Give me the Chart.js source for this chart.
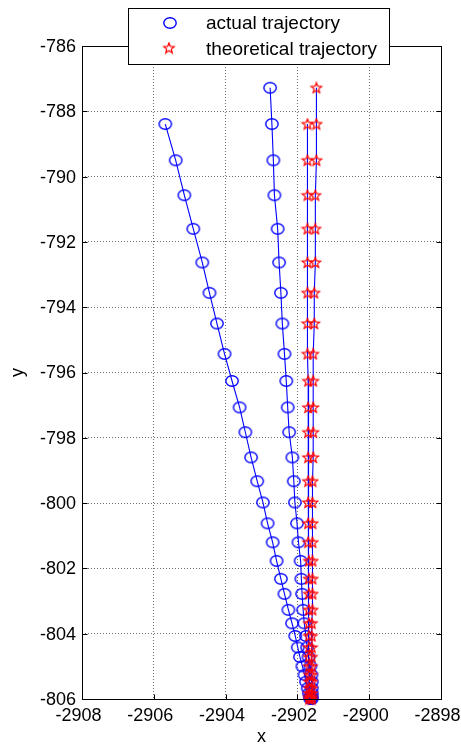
<!DOCTYPE html>
<html>
<head>
<meta charset="utf-8">
<title>Trajectory</title>
<script src="https://cdn.jsdelivr.net/npm/chart.js@4.4.1/dist/chart.umd.min.js"></script>
<style>
  html, body { margin: 0; padding: 0; background: #ffffff; }
  #wrap { width: 461px; height: 749px; position: relative; }
</style>
</head>
<body>
<div id="wrap"><canvas id="chart" width="461" height="749"></canvas></div>
<script>
// ---- data -------------------------------------------------------------
// Run 1: y samples shared by the actual path and its reference path
const yRun1 = [-788.39, -789.50, -790.57, -791.60, -792.63, -793.56, -794.50, -795.43,
  -796.26, -797.07, -797.83, -798.60, -799.33, -799.98, -800.62, -801.20, -801.77,
  -802.32, -802.78, -803.27, -803.68, -804.07, -804.42, -804.71, -805.00, -805.26,
  -805.47, -805.67, -805.83, -805.94, -806.00];
const xActual1 = [-2905.68, -2905.39, -2905.15, -2904.90, -2904.65, -2904.45, -2904.24,
  -2904.03, -2903.82, -2903.61, -2903.45, -2903.29, -2903.12, -2902.96, -2902.83,
  -2902.69, -2902.58, -2902.46, -2902.36, -2902.25, -2902.15, -2902.06, -2901.99,
  -2901.93, -2901.86, -2901.80, -2901.76, -2901.71, -2901.68, -2901.65, -2901.64];
const xTheory1 = [-2901.72, -2901.72, -2901.72, -2901.72, -2901.72, -2901.72, -2901.72,
  -2901.72, -2901.70, -2901.70, -2901.70, -2901.70, -2901.70, -2901.70, -2901.70,
  -2901.70, -2901.68, -2901.68, -2901.68, -2901.68, -2901.68, -2901.68, -2901.68,
  -2901.68, -2901.67, -2901.67, -2901.67, -2901.67, -2901.67, -2901.67, -2901.67];

// Run 2: one extra sample at the start
const yRun2 = [-787.28, -788.39, -789.50, -790.57, -791.60, -792.63, -793.56, -794.50,
  -795.43, -796.26, -797.07, -797.83, -798.60, -799.33, -799.98, -800.62, -801.20,
  -801.77, -802.32, -802.78, -803.27, -803.68, -804.07, -804.42, -804.71, -805.00,
  -805.26, -805.47, -805.67, -805.83, -805.94, -806.00];
const xActual2 = [-2902.76, -2902.71, -2902.67, -2902.64, -2902.55, -2902.51, -2902.46,
  -2902.42, -2902.36, -2902.31, -2902.27, -2902.23, -2902.14, -2902.10, -2902.07,
  -2902.01, -2901.97, -2901.91, -2901.89, -2901.87, -2901.84, -2901.81, -2901.76,
  -2901.73, -2901.69, -2901.64, -2901.61, -2901.60, -2901.60, -2901.60, -2901.60,
  -2901.60];
const xTheory2 = [-2901.47, -2901.47, -2901.47, -2901.50, -2901.50, -2901.50, -2901.53,
  -2901.53, -2901.56, -2901.56, -2901.56, -2901.56, -2901.56, -2901.58, -2901.58,
  -2901.58, -2901.58, -2901.58, -2901.58, -2901.58, -2901.58, -2901.60, -2901.60,
  -2901.60, -2901.60, -2901.60, -2901.60, -2901.60, -2901.60, -2901.60, -2901.60,
  -2901.60];

const seriesNames = ['actual trajectory', 'theoretical trajectory'];
const xTicks = [-2908, -2906, -2904, -2902, -2900, -2898];
const yTicks = [-806, -804, -802, -800, -798, -796, -794, -792, -790, -788, -786];

// ---- marker glyphs ------------------------------------------------------
function makeEllipse() {
  const c = document.createElement('canvas');
  c.width = 16; c.height = 14;
  const g = c.getContext('2d');
  g.strokeStyle = '#0000ff';
  g.lineWidth = 1.4;
  g.beginPath();
  g.ellipse(8, 7, 6.2, 5.2, 0, 0, Math.PI * 2);
  g.stroke();
  return c;
}
function makeStar() {
  const c = document.createElement('canvas');
  c.width = 14; c.height = 13;
  const g = c.getContext('2d');
  g.strokeStyle = '#ff0000';
  g.lineWidth = 1.25;
  g.lineJoin = 'miter';
  g.beginPath();
  const cx = 7, cy = 6.9, ro = 5.5, ri = 2.4;
  for (let i = 0; i < 10; i++) {
    const r = i % 2 === 0 ? ro : ri;
    const a = -Math.PI / 2 + i * Math.PI / 5;
    const px = cx + r * Math.cos(a), py = cy + r * Math.sin(a);
    if (i === 0) g.moveTo(px, py); else g.lineTo(px, py);
  }
  g.closePath();
  g.stroke();
  return c;
}
const ellipseMark = makeEllipse();
const starMark = makeStar();

const toPoints = (xs, ys) => xs.map((x, i) => ({ x: x, y: ys[i] }));

function actualSet(xs, ys) {
  return {
    label: seriesNames[0], data: toPoints(xs, ys), showLine: true,
    borderColor: '#0000ff', borderWidth: 1.1, pointStyle: ellipseMark,
    pointRadius: 5, order: 1, clip: false
  };
}
function theorySet(xs, ys) {
  return {
    label: seriesNames[1], data: toPoints(xs, ys), showLine: true,
    borderColor: '#0000ff', borderWidth: 1.1, pointStyle: starMark,
    pointRadius: 5, order: 0, clip: false
  };
}

// ---- frame with inward tick marks --------------------------------------
const framePlugin = {
  id: 'frame',
  afterDatasetsDraw(chart) {
    const { ctx, chartArea: a, scales } = chart;
    const L = Math.round(a.left) + 0.5, R = Math.round(a.right) + 0.5;
    const T = Math.round(a.top) + 0.5, B = Math.round(a.bottom) + 0.5;
    ctx.save();
    ctx.strokeStyle = '#000';
    ctx.lineWidth = 1;
    ctx.strokeRect(L, T, R - L, B - T);
    ctx.beginPath();
    const len = 5;
    xTicks.forEach(v => {
      const px = Math.round(scales.x.getPixelForValue(v)) + 0.5;
      ctx.moveTo(px, B); ctx.lineTo(px, B - len);
      ctx.moveTo(px, T); ctx.lineTo(px, T + len);
    });
    yTicks.forEach(v => {
      const py = Math.round(scales.y.getPixelForValue(v)) + 0.5;
      ctx.moveTo(L, py); ctx.lineTo(L + len, py);
      ctx.moveTo(R, py); ctx.lineTo(R - len, py);
    });
    ctx.stroke();
    ctx.restore();
  }
};

// ---- boxed legend overlapping the top edge -----------------------------
const legendBox = {
  id: 'legendBox',
  afterDraw(chart) {
    const { ctx } = chart;
    ctx.save();
    ctx.fillStyle = '#ffffff';
    ctx.fillRect(128.5, 8.5, 261, 56);
    ctx.strokeStyle = '#000';
    ctx.lineWidth = 1;
    ctx.strokeRect(128.5, 8.5, 261, 56);
    ctx.drawImage(ellipseMark, 170 - ellipseMark.width / 2, 23 - ellipseMark.height / 2);
    ctx.drawImage(starMark, 169 - starMark.width / 2, 48 - starMark.height / 2);
    ctx.fillStyle = '#000';
    ctx.font = '19px "Liberation Sans", Arial, sans-serif';
    ctx.textBaseline = 'middle';
    ctx.textAlign = 'left';
    ctx.fillText(seriesNames[0], 206, 24);
    ctx.fillText(seriesNames[1], 206, 50);
    ctx.restore();
  }
};

Chart.defaults.font.family = '"Liberation Sans", Arial, sans-serif';
Chart.defaults.color = '#000';

new Chart(document.getElementById('chart'), {
  type: 'scatter',
  data: {
    datasets: [
      actualSet(xActual1, yRun1),
      actualSet(xActual2, yRun2),
      theorySet(xTheory1, yRun1),
      theorySet(xTheory2, yRun2)
    ]
  },
  options: {
    responsive: false,
    animation: false,
    devicePixelRatio: 1,
    events: [],
    layout: { padding: { top: 46, right: 20, left: 0, bottom: 0 } },
    plugins: { legend: { display: false }, tooltip: { enabled: false } },
    scales: {
      x: {
        type: 'linear', position: 'bottom', min: -2908, max: -2898,
        afterBuildTicks: s => { s.ticks = xTicks.map(v => ({ value: v })); },
        afterFit: s => { s.height = 50; s.paddingLeft = 0; s.paddingRight = 0; },
        ticks: { font: { size: 18 }, padding: 6, labelOffset: -3.5, maxRotation: 0,
                 callback: v => String(v) },
        grid: { color: '#707070', lineWidth: 1, drawTicks: false },
        border: { display: false, dash: [1, 2] },
        title: { display: true, text: 'x', font: { size: 18 }, padding: { top: 0, bottom: 1 } }
      },
      y: {
        type: 'linear', position: 'left', min: -806, max: -786,
        afterBuildTicks: s => { s.ticks = yTicks.map(v => ({ value: v })); },
        afterFit: s => { s.width = 82; s.paddingTop = 0; s.paddingBottom = 0; },
        ticks: { font: { size: 18 }, padding: 6, labelOffset: 1, callback: v => String(v) },
        grid: { color: '#707070', lineWidth: 1, drawTicks: false },
        border: { display: false, dash: [1, 2] },
        title: { display: true, text: 'y', font: { size: 18 }, padding: { top: 7, bottom: 0 } }
      }
    }
  },
  plugins: [framePlugin, legendBox]
});
</script>
</body>
</html>
